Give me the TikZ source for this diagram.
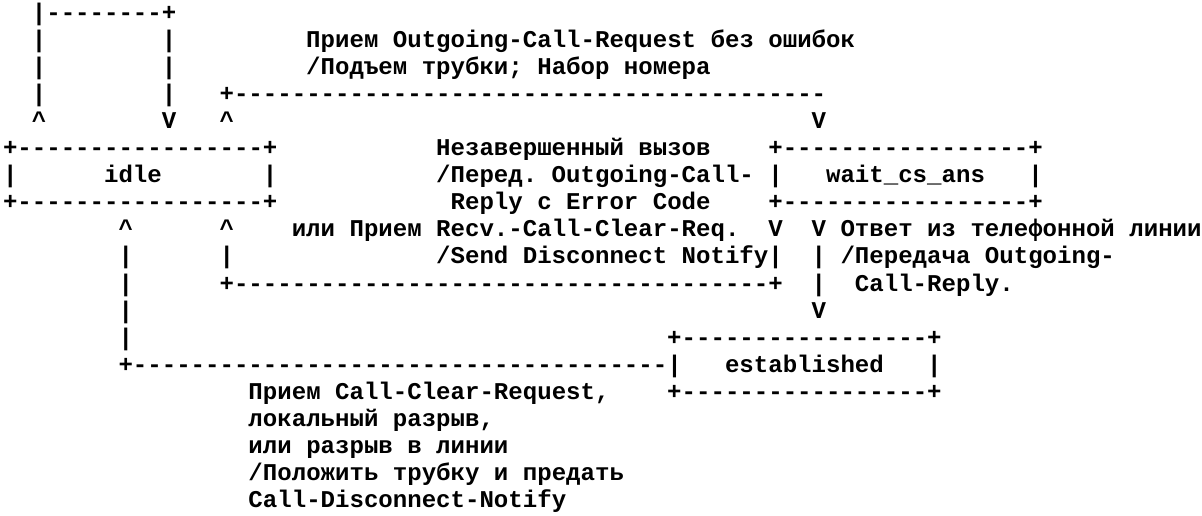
\documentclass[tikz,border=0pt]{standalone}
\usepackage{fontspec}
\setmonofont{Liberation Mono}
\newcommand\cw{14.44pt}
\newcommand\rp{27.1pt}
\newcommand\place[4]{\node[txt] (#1) at ({3pt+#2*14.44pt},{-(#3*27.1pt+20pt)}) {#4};}
\tikzset{txt/.style={anchor=base west, inner sep=0pt, outer sep=0pt,
  font=\fontsize{24.07pt}{27.1pt}\ttfamily\bfseries}}
\begin{document}
\begin{tikzpicture}
\fill[white] (0,0) rectangle (1202pt,-515pt);
\useasboundingbox (0,0) rectangle (1202pt,-515pt);
% row 0
\place{r0a}{2}{0}{|--------+}
% row 1
\place{r1a}{2}{1}{|}
\place{r1b}{11}{1}{|}
\place{r1c}{21}{1}{Прием Outgoing-Call-Request без ошибок}
% row 2
\place{r2a}{2}{2}{|}
\place{r2b}{11}{2}{|}
\place{r2c}{21}{2}{/Подъем трубки; Набор номера}
% row 3
\place{r3a}{2}{3}{|}
\place{r3b}{11}{3}{|}
\place{r3c}{15}{3}{+-----------------------------------------}
% row 4
\place{r4a}{2}{4}{\textasciicircum}
\place{r4b}{11}{4}{V}
\place{r4c}{15}{4}{\textasciicircum}
\place{r4d}{56}{4}{V}
% row 5
\place{idletop}{0}{5}{+-----------------+}
\place{r5b}{30}{5}{Незавершенный вызов}
\place{waittop}{53}{5}{+-----------------+}
% row 6
\place{r6a}{0}{6}{|}
\place{idle}{7}{6}{idle}
\place{r6c}{18}{6}{|}
\place{r6d}{30}{6}{/Перед. Outgoing-Call-}
\place{r6e}{53}{6}{|}
\place{wait}{57}{6}{wait\_cs\_ans}
\place{r6g}{71}{6}{|}
% row 7
\place{idlebot}{0}{7}{+-----------------+}
\place{r7b}{31}{7}{Reply с Error Code}
\place{waitbot}{53}{7}{+-----------------+}
% row 8
\place{r8a}{8}{8}{\textasciicircum}
\place{r8b}{15}{8}{\textasciicircum}
\place{r8c}{20}{8}{или Прием Recv.-Call-Clear-Req.}
\place{r8d}{53}{8}{V}
\place{r8e}{56}{8}{V Ответ из телефонной линии}
% row 9
\place{r9a}{8}{9}{|}
\place{r9b}{15}{9}{|}
\place{r9c}{30}{9}{/Send Disconnect Notify|}
\place{r9d}{56}{9}{| /Передача Outgoing-}
% row 10
\place{r10a}{8}{10}{|}
\place{r10b}{15}{10}{+-------------------------------------+}
\place{r10c}{56}{10}{|}
\place{r10d}{59}{10}{Call-Reply.}
% row 11
\place{r11a}{8}{11}{|}
\place{r11b}{56}{11}{V}
% row 12
\place{r12a}{8}{12}{|}
\place{esttop}{46}{12}{+-----------------+}
% row 13
\place{r13a}{8}{13}{+-------------------------------------|}
\place{est}{50}{13}{established}
\place{r13c}{64}{13}{|}
% row 14
\place{r14a}{17}{14}{Прием Call-Clear-Request,}
\place{estbot}{46}{14}{+-----------------+}
% rows 15-18
\place{r15a}{17}{15}{локальный разрыв,}
\place{r16a}{17}{16}{или разрыв в линии}
\place{r17a}{17}{17}{/Положить трубку и предать}
\place{r18a}{17}{18}{Call-Disconnect-Notify}
\end{tikzpicture}
\end{document}
